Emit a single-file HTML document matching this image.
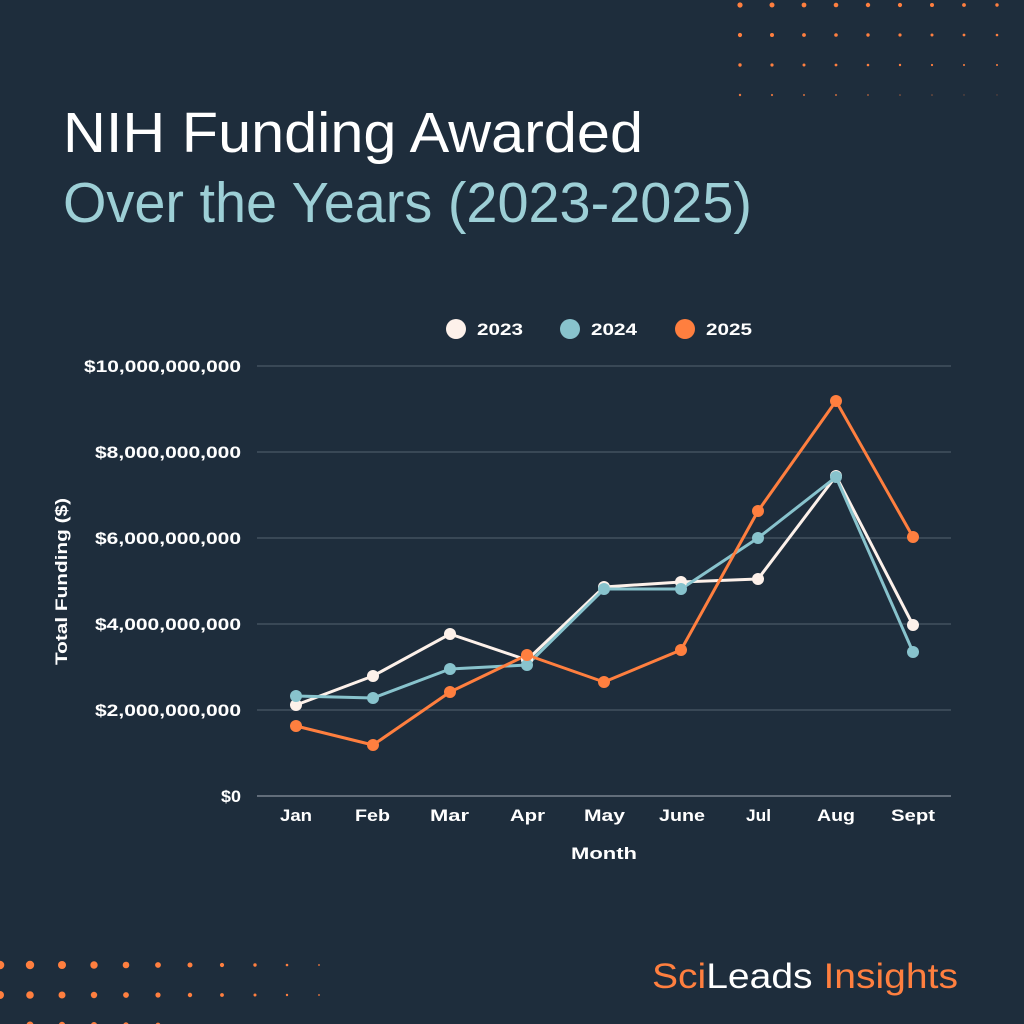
<!DOCTYPE html>
<html><head><meta charset="utf-8"><style>
html,body{margin:0;padding:0;background:#1e2d3c;}
svg{display:block;}
text{font-family:"Liberation Sans",sans-serif;}
</style></head><body>
<svg width="1024" height="1024" viewBox="0 0 1024 1024" xmlns="http://www.w3.org/2000/svg">
<rect width="1024" height="1024" fill="#1e2d3c"/>
<g fill="#ff7f3f">
<circle cx="740" cy="5" r="2.6"/><circle cx="772" cy="5" r="2.5"/><circle cx="804" cy="5" r="2.4"/><circle cx="836" cy="5" r="2.3"/><circle cx="868" cy="5" r="2.2"/><circle cx="900" cy="5" r="2.1"/><circle cx="932" cy="5" r="2"/><circle cx="964" cy="5" r="1.9"/><circle cx="997" cy="5" r="1.7"/>
<circle cx="740" cy="35" r="2.1"/><circle cx="772" cy="35" r="2"/><circle cx="804" cy="35" r="1.9"/><circle cx="836" cy="35" r="1.8"/><circle cx="868" cy="35" r="1.7"/><circle cx="900" cy="35" r="1.6"/><circle cx="932" cy="35" r="1.5"/><circle cx="964" cy="35" r="1.4"/><circle cx="997" cy="35" r="1.3"/>
<circle cx="740" cy="65" r="1.7"/><circle cx="772" cy="65" r="1.6"/><circle cx="804" cy="65" r="1.5"/><circle cx="836" cy="65" r="1.4"/><circle cx="868" cy="65" r="1.3"/><circle cx="900" cy="65" r="1.2"/><circle cx="932" cy="65" r="1.1"/><circle cx="964" cy="65" r="1"/><circle cx="997" cy="65" r="1"/>
<circle cx="740" cy="95" r="1.2" opacity=".9"/><circle cx="772" cy="95" r="1.1" opacity=".85"/><circle cx="804" cy="95" r="1" opacity=".8"/><circle cx="836" cy="95" r="1" opacity=".75"/><circle cx="868" cy="95" r=".9" opacity=".7"/><circle cx="900" cy="95" r=".8" opacity=".6"/><circle cx="932" cy="95" r=".8" opacity=".5"/><circle cx="964" cy="95" r=".7" opacity=".4"/><circle cx="997" cy="95" r=".7" opacity=".35"/>
<circle cx="0" cy="965" r="4.3"/><circle cx="30" cy="965" r="4.2"/><circle cx="62" cy="965" r="4"/><circle cx="94" cy="965" r="3.7"/><circle cx="126" cy="965" r="3.3"/><circle cx="158" cy="965" r="2.9"/><circle cx="190" cy="965" r="2.5"/><circle cx="222" cy="965" r="2.1"/><circle cx="255" cy="965" r="1.7"/><circle cx="287" cy="965" r="1.3"/><circle cx="319" cy="965" r=".9"/>
<circle cx="0" cy="995" r="4"/><circle cx="30" cy="995" r="3.8"/><circle cx="62" cy="995" r="3.5"/><circle cx="94" cy="995" r="3.2"/><circle cx="126" cy="995" r="2.9"/><circle cx="158" cy="995" r="2.6"/><circle cx="190" cy="995" r="2.2"/><circle cx="222" cy="995" r="1.9"/><circle cx="255" cy="995" r="1.5"/><circle cx="287" cy="995" r="1.2"/><circle cx="319" cy="995" r=".9"/>
<circle cx="30" cy="1025" r="3.5"/><circle cx="62" cy="1025" r="3.2"/><circle cx="94" cy="1025" r="3"/><circle cx="126" cy="1025" r="2.7"/><circle cx="158" cy="1025" r="2.4"/>
</g>
<text x="63" y="152" font-size="57" fill="#ffffff" textLength="580" lengthAdjust="spacingAndGlyphs">NIH Funding Awarded</text>
<text x="63" y="222" font-size="57" fill="#9dcfd6" textLength="689" lengthAdjust="spacingAndGlyphs">Over the Years (2023-2025)</text>
<g font-size="17" font-weight="bold" fill="#ffffff">
<circle cx="456" cy="329" r="10" fill="#fdf1ea"/><text x="477" y="335" textLength="46" lengthAdjust="spacingAndGlyphs">2023</text>
<circle cx="570" cy="329" r="10" fill="#88c3cd"/><text x="591" y="335" textLength="46" lengthAdjust="spacingAndGlyphs">2024</text>
<circle cx="685" cy="329" r="10" fill="#ff7f3f"/><text x="706" y="335" textLength="46" lengthAdjust="spacingAndGlyphs">2025</text>
</g>
<g stroke="#4a5866" stroke-width="1.3">
<line x1="257" y1="366" x2="951" y2="366"/><line x1="257" y1="452" x2="951" y2="452"/><line x1="257" y1="538" x2="951" y2="538"/><line x1="257" y1="624" x2="951" y2="624"/><line x1="257" y1="710" x2="951" y2="710"/>
</g>
<line x1="257" y1="796" x2="951" y2="796" stroke="#8a949e" stroke-width="1.3"/>
<g font-size="17" font-weight="bold" fill="#ffffff" lengthAdjust="spacingAndGlyphs">
<text x="84" y="372" textLength="157" lengthAdjust="spacingAndGlyphs">$10,000,000,000</text>
<text x="95" y="458" textLength="146" lengthAdjust="spacingAndGlyphs">$8,000,000,000</text>
<text x="95" y="544" textLength="146" lengthAdjust="spacingAndGlyphs">$6,000,000,000</text>
<text x="95" y="630" textLength="146" lengthAdjust="spacingAndGlyphs">$4,000,000,000</text>
<text x="95" y="716" textLength="146" lengthAdjust="spacingAndGlyphs">$2,000,000,000</text>
<text x="221" y="802" textLength="20" lengthAdjust="spacingAndGlyphs">$0</text>
</g>
<g font-size="17" font-weight="bold" fill="#ffffff">
<text x="280" y="821" textLength="32" lengthAdjust="spacingAndGlyphs">Jan</text>
<text x="355" y="821" textLength="35" lengthAdjust="spacingAndGlyphs">Feb</text>
<text x="430" y="821" textLength="39" lengthAdjust="spacingAndGlyphs">Mar</text>
<text x="510" y="821" textLength="35" lengthAdjust="spacingAndGlyphs">Apr</text>
<text x="584" y="821" textLength="41" lengthAdjust="spacingAndGlyphs">May</text>
<text x="659" y="821" textLength="46" lengthAdjust="spacingAndGlyphs">June</text>
<text x="746" y="821" textLength="25" lengthAdjust="spacingAndGlyphs">Jul</text>
<text x="817" y="821" textLength="38" lengthAdjust="spacingAndGlyphs">Aug</text>
<text x="891" y="821" textLength="44" lengthAdjust="spacingAndGlyphs">Sept</text>
<text x="571" y="859" textLength="66" lengthAdjust="spacingAndGlyphs">Month</text>
<text transform="translate(67,665) rotate(-90)" textLength="167" lengthAdjust="spacingAndGlyphs">Total Funding ($)</text>
</g>
<g fill="none" stroke-width="3" stroke-linejoin="round">
<polyline stroke="#fdf1ea" points="296,705 373,676 450,634 527,660 604,587 681,582 758,579 836,476 913,625"/>
<polyline stroke="#88c3cd" points="296,696 373,698 450,669 527,665 604,589 681,589 758,538 836,477 913,652"/>
<polyline stroke="#ff7f3f" points="296,726 373,745 450,692 527,655 604,682 681,650 758,511 836,401 913,537"/>
</g>
<g fill="#fdf1ea"><circle cx="296" cy="705" r="6"/><circle cx="373" cy="676" r="6"/><circle cx="450" cy="634" r="6"/><circle cx="527" cy="660" r="6"/><circle cx="604" cy="587" r="6"/><circle cx="681" cy="582" r="6"/><circle cx="758" cy="579" r="6"/><circle cx="836" cy="476" r="6"/><circle cx="913" cy="625" r="6"/></g>
<g fill="#88c3cd"><circle cx="296" cy="696" r="6"/><circle cx="373" cy="698" r="6"/><circle cx="450" cy="669" r="6"/><circle cx="527" cy="665" r="6"/><circle cx="604" cy="589" r="6"/><circle cx="681" cy="589" r="6"/><circle cx="758" cy="538" r="6"/><circle cx="836" cy="477" r="6"/><circle cx="913" cy="652" r="6"/></g>
<g fill="#ff7f3f"><circle cx="296" cy="726" r="6"/><circle cx="373" cy="745" r="6"/><circle cx="450" cy="692" r="6"/><circle cx="527" cy="655" r="6"/><circle cx="604" cy="682" r="6"/><circle cx="681" cy="650" r="6"/><circle cx="758" cy="511" r="6"/><circle cx="836" cy="401" r="6"/><circle cx="913" cy="537" r="6"/></g>
<text x="652" y="988" font-size="35" textLength="306" lengthAdjust="spacingAndGlyphs"><tspan fill="#ff7f3f">Sci</tspan><tspan fill="#ffffff">Leads</tspan><tspan fill="#ff7f3f"> Insights</tspan></text>
</svg>
</body></html>
